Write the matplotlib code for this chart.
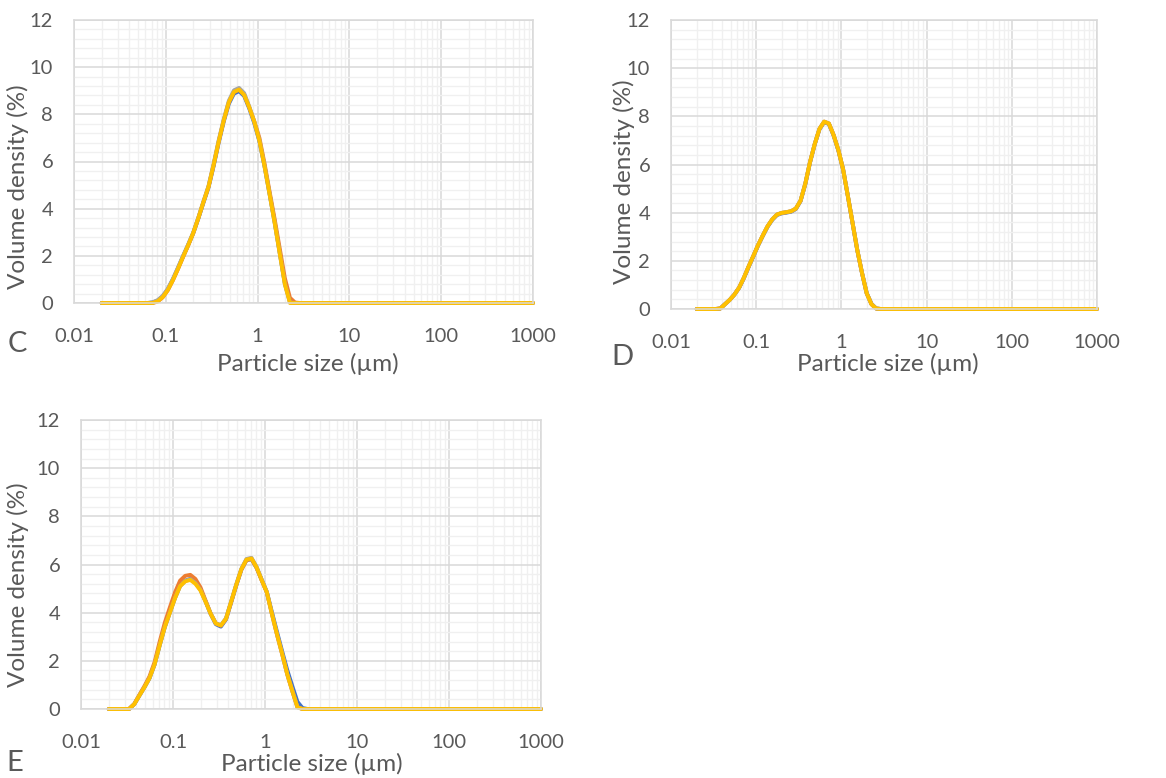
"""Particle size distributions (panels C, D, E), Excel-style look."""

import matplotlib

matplotlib.use("Agg")

import matplotlib.pyplot as plt
import numpy as np
from matplotlib.ticker import FixedLocator, NullFormatter, LogLocator

FIG_W, FIG_H = 1166, 778
TEXT = "#595959"
GRID_MAJOR, GRID_MINOR = "#d9d9d9", "#f0f0f0"
SERIES_COLORS = ["#4472c4", "#ed7d31", "#a5a5a5", "#ffc000"]

# size classes (µm) read along the x axis, shared by all panels
SIZES = [
    0.0200, 0.0227, 0.0258, 0.0293, 0.0333, 0.0379, 0.0430, 0.0489, 0.0555,
    0.0631, 0.0717, 0.0814, 0.0925, 0.1051, 0.1194, 0.1357, 0.1542, 0.1752,
    0.1990, 0.2261, 0.2569, 0.2919, 0.3317, 0.3768, 0.4282, 0.4865, 0.5527,
    0.6280, 0.7136, 0.8108, 0.9212, 1.0467, 1.1893, 1.3512, 1.5353, 1.7444,
    1.9820, 2.2520, 2.5587, 2.9072, 3.3032, 1000.0,
]

# panel C: blue, orange, grey, yellow
C_BLUE = [0, 0, 0, 0, 0, 0, 0, 0, 0, 0, 0.02, 0.1, 0.28, 0.58, 1.0, 1.48, 1.98, 2.46,
          2.96, 3.58, 4.25, 4.9, 5.8, 6.8, 7.7, 8.45, 8.88, 8.98, 8.78, 8.25, 7.62,
          6.85, 5.8, 4.62, 3.42, 2.12, 0.83, 0.05, 0.0, 0, 0, 0]
C_ORANGE = [0, 0, 0, 0, 0, 0, 0, 0, 0, 0, 0.0, 0.06, 0.24, 0.54, 0.96, 1.44, 1.95, 2.44,
            2.96, 3.6, 4.28, 4.93, 5.85, 6.85, 7.75, 8.52, 8.95, 9.05, 8.85, 8.3, 7.7,
            7.0, 5.92, 4.72, 3.55, 2.3, 1.05, 0.22, 0.02, 0, 0, 0]
C_GREY = [0, 0, 0, 0, 0, 0, 0, 0, 0, 0, 0.03, 0.12, 0.3, 0.6, 1.02, 1.5, 2.0, 2.48,
          2.99, 3.62, 4.3, 4.96, 5.9, 6.9, 7.8, 8.58, 9.02, 9.12, 8.9, 8.33, 7.68,
          6.9, 5.82, 4.62, 3.4, 2.1, 0.8, 0.02, 0.0, 0, 0, 0]
C_YELLOW = [0, 0, 0, 0, 0, 0, 0, 0, 0, 0, 0.0, 0.07, 0.25, 0.55, 0.97, 1.45, 1.96, 2.45,
            2.97, 3.6, 4.28, 4.93, 5.85, 6.85, 7.75, 8.52, 8.95, 9.05, 8.82, 8.3, 7.68,
            6.88, 5.8, 4.61, 3.39, 2.08, 0.79, 0.0, 0.0, 0, 0, 0]

# panel D
D_BLUE = [0, 0, 0, 0, 0, 0.02, 0.2, 0.38, 0.6, 0.88, 1.28, 1.74, 2.18, 2.63, 3.03, 3.41,
          3.7, 3.9, 3.97, 4.0, 4.04, 4.15, 4.48, 5.18, 6.08, 6.84, 7.46, 7.76, 7.68,
          7.2, 6.58, 5.8, 4.7, 3.58, 2.45, 1.5, 0.66, 0.22, 0.02, 0, 0, 0]
D_ORANGE = [0, 0, 0, 0, 0, 0.02, 0.2, 0.38, 0.6, 0.89, 1.3, 1.76, 2.2, 2.65, 3.05, 3.43,
            3.72, 3.92, 3.99, 4.02, 4.06, 4.17, 4.5, 5.2, 6.1, 6.85, 7.48, 7.78, 7.7,
            7.22, 6.6, 5.8, 4.7, 3.58, 2.45, 1.5, 0.65, 0.2, 0.02, 0, 0, 0]
D_GREY = [0, 0, 0, 0, 0, 0.02, 0.2, 0.38, 0.6, 0.89, 1.3, 1.76, 2.2, 2.65, 3.05, 3.43,
          3.72, 3.92, 3.99, 4.02, 4.06, 4.17, 4.5, 5.2, 6.1, 6.85, 7.48, 7.78, 7.7,
          7.22, 6.6, 5.8, 4.7, 3.58, 2.45, 1.5, 0.65, 0.2, 0.02, 0, 0, 0]
D_YELLOW = [0, 0, 0, 0, 0, 0.02, 0.2, 0.38, 0.6, 0.89, 1.3, 1.76, 2.2, 2.65, 3.05, 3.43,
            3.72, 3.92, 3.99, 4.02, 4.06, 4.17, 4.5, 5.2, 6.1, 6.85, 7.48, 7.78, 7.7,
            7.22, 6.6, 5.8, 4.7, 3.58, 2.45, 1.5, 0.65, 0.2, 0.02, 0, 0, 0]

# panel E
E_BLUE = [0, 0, 0, 0, 0, 0.2, 0.55, 0.9, 1.28, 1.85, 2.65, 3.4, 4.02, 4.62, 5.12, 5.33,
          5.4, 5.25, 4.96, 4.47, 3.94, 3.52, 3.42, 3.72, 4.42, 5.12, 5.78, 6.18, 6.22,
          5.86, 5.36, 4.86, 4.02, 3.2, 2.4, 1.62, 0.95, 0.3, 0.04, 0, 0, 0]
E_ORANGE = [0, 0, 0, 0, 0, 0.21, 0.58, 0.95, 1.35, 1.95, 2.8, 3.58, 4.22, 4.84, 5.33, 5.53,
            5.57, 5.4, 5.05, 4.5, 3.96, 3.56, 3.46, 3.74, 4.43, 5.14, 5.78, 6.18, 6.23,
            5.86, 5.34, 4.84, 3.94, 3.08, 2.28, 1.44, 0.74, 0.08, 0.0, 0, 0, 0]
E_GREY = [0, 0, 0, 0, 0, 0.2, 0.55, 0.9, 1.28, 1.85, 2.65, 3.4, 4.0, 4.6, 5.1, 5.32,
          5.39, 5.23, 4.94, 4.46, 3.96, 3.56, 3.48, 3.77, 4.47, 5.17, 5.82, 6.23, 6.28,
          5.9, 5.37, 4.86, 3.96, 3.1, 2.3, 1.45, 0.75, 0.07, 0.0, 0, 0, 0]
E_YELLOW = [0, 0, 0, 0, 0, 0.2, 0.55, 0.9, 1.28, 1.85, 2.65, 3.4, 4.0, 4.6, 5.1, 5.3,
            5.36, 5.2, 4.92, 4.45, 3.95, 3.55, 3.47, 3.75, 4.45, 5.15, 5.8, 6.2, 6.25,
            5.88, 5.35, 4.85, 3.95, 3.1, 2.3, 1.45, 0.75, 0.07, 0.0, 0, 0, 0]

X_TICKS = [0.01, 0.1, 1, 10, 100, 1000]
X_TICK_LABELS = ["0.01", "0.1", "1", "10", "100", "1000"]
Y_TICKS = [0, 2, 4, 6, 8, 10, 12]

plt.rcParams["font.family"] = ["Lato", "DejaVu Sans"]


def px_box(left, top, right, bottom):
    return [left / FIG_W, 1 - bottom / FIG_H, (right - left) / FIG_W, (bottom - top) / FIG_H]


def fig_text(fig, x, y, s, **kw):
    fig.text(x / FIG_W, 1 - y / FIG_H, s, color=TEXT, ha="center", va="center", **kw)


def draw_panel(ax, series):
    ax.set_xscale("log")
    ax.set_xlim(0.01, 1000)
    ax.set_ylim(0, 12)
    ax.xaxis.set_major_locator(FixedLocator(X_TICKS))
    ax.set_xticklabels(X_TICK_LABELS)
    ax.xaxis.set_minor_locator(LogLocator(base=10, subs=np.arange(2, 10), numticks=20))
    ax.xaxis.set_minor_formatter(NullFormatter())
    ax.set_yticks(Y_TICKS)
    ax.yaxis.set_minor_locator(FixedLocator(np.arange(0, 12.01, 0.4)))
    ax.grid(which="major", color=GRID_MAJOR, lw=1.1)
    ax.grid(which="minor", color=GRID_MINOR, lw=1.0)
    ax.set_axisbelow(True)
    ax.tick_params(which="both", length=0, labelsize=14.5, labelcolor=TEXT)
    ax.tick_params(axis="x", pad=18)
    ax.tick_params(axis="y", pad=15)
    for side in ax.spines.values():
        side.set_color(GRID_MAJOR)
        side.set_linewidth(1.1)
    for values, color in zip(series, SERIES_COLORS):
        ax.plot(SIZES, values, color=color, lw=2.8, solid_capstyle="round",
                solid_joinstyle="round", clip_on=False)


fig = plt.figure(figsize=(FIG_W / 100, FIG_H / 100), dpi=100, facecolor="white")

ax_c = fig.add_axes(px_box(74, 20, 533, 303))
draw_panel(ax_c, [C_BLUE, C_ORANGE, C_GREY, C_YELLOW])
ax_d = fig.add_axes(px_box(671, 20, 1097, 309))
draw_panel(ax_d, [D_BLUE, D_ORANGE, D_GREY, D_YELLOW])
ax_e = fig.add_axes(px_box(81, 420, 541, 709))
draw_panel(ax_e, [E_BLUE, E_ORANGE, E_GREY, E_YELLOW])

ylabel_kw = dict(rotation=90, fontsize=17.5)
fig_text(fig, 18, 187, "Volume density (%)", **ylabel_kw)
fig_text(fig, 624, 182, "Volume density (%)", **ylabel_kw)
fig_text(fig, 18, 585, "Volume density (%)", **ylabel_kw)

fig_text(fig, 308, 364, "Particle size (µm)", fontsize=17.5)
fig_text(fig, 888, 364, "Particle size (µm)", fontsize=17.5)
fig_text(fig, 312, 764, "Particle size (µm)", fontsize=17.5)

fig_text(fig, 17, 344, "C", fontsize=21)
fig_text(fig, 622, 357, "D", fontsize=21)
fig_text(fig, 15, 763, "E", fontsize=21)

fig.savefig("out.png", dpi=100, facecolor="white")
